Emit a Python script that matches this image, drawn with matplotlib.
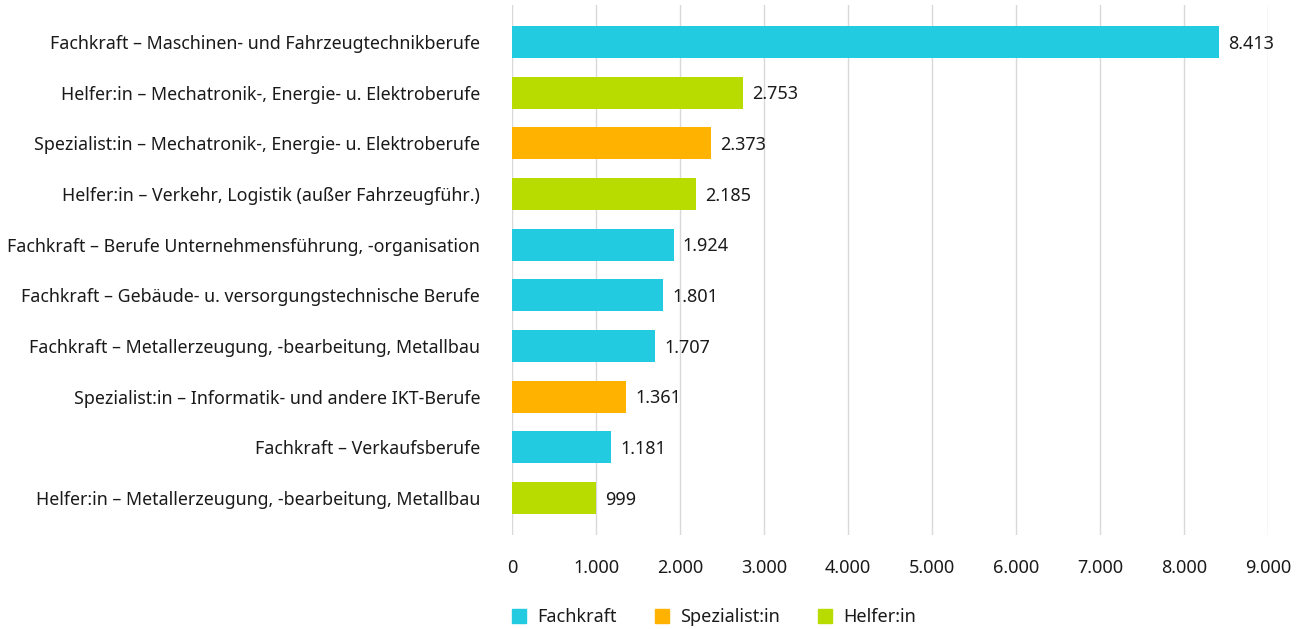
import matplotlib.pyplot as plt
from matplotlib.patches import Patch

categories = [
    "Fachkraft – Maschinen- und Fahrzeugtechnikberufe",
    "Helfer:in – Mechatronik-, Energie- u. Elektroberufe",
    "Spezialist:in – Mechatronik-, Energie- u. Elektroberufe",
    "Helfer:in – Verkehr, Logistik (außer Fahrzeugführ.)",
    "Fachkraft – Berufe Unternehmensführung, -organisation",
    "Fachkraft – Gebäude- u. versorgungstechnische Berufe",
    "Fachkraft – Metallerzeugung, -bearbeitung, Metallbau",
    "Spezialist:in – Informatik- und andere IKT-Berufe",
    "Fachkraft – Verkaufsberufe",
    "Helfer:in – Metallerzeugung, -bearbeitung, Metallbau",
]
values = [8413, 2753, 2373, 2185, 1924, 1801, 1707, 1361, 1181, 999]
levels = ["Fachkraft", "Helfer:in", "Spezialist:in", "Helfer:in", "Fachkraft",
          "Fachkraft", "Fachkraft", "Spezialist:in", "Fachkraft", "Helfer:in"]
level_names = ["Fachkraft", "Spezialist:in", "Helfer:in"]
level_colors = {"Fachkraft": "#22CBE0", "Spezialist:in": "#FFB300", "Helfer:in": "#B8DC00"}

def fmt(v):
    return f"{v:,}".replace(",", ".")

plt.rcParams['font.family'] = ['Noto Sans', 'DejaVu Sans']
txt = "#1a1a1a"

fig = plt.figure(figsize=[13.06, 6.29], dpi=100)
ax = fig.add_axes([512 / 1306, 1 - 535 / 629, (1268 - 512) / 1306, 530 / 629])

ypos = list(range(len(categories)))
ax.barh(ypos, values, height=0.63, color=[level_colors[l] for l in levels], zorder=3)
for y, v in zip(ypos, values):
    ax.text(v + 110, y + 0.03, fmt(v), va="center", ha="left", fontsize=13, color=txt)

ax.set_xlim(0, 9000)
ax.set_ylim(len(categories) - 1 + 0.73, -0.73)
ax.set_xticks(range(0, 9001, 1000))
ax.set_xticklabels([fmt(t) for t in range(0, 9001, 1000)], fontsize=13, color=txt)
ax.set_yticks(ypos)
ax.set_yticklabels(categories, fontsize=12.8, color=txt)
ax.tick_params(axis="both", length=0)
ax.tick_params(axis="x", pad=17)
ax.tick_params(axis="y", pad=23)
ax.grid(axis="x", color="#d9d9d9", linewidth=1, zorder=0)
for s in ax.spines.values():
    s.set_visible(False)

handles = [Patch(color=level_colors[n], label=n) for n in level_names]
fig.legend(handles=handles, loc="center", bbox_to_anchor=(714 / 1306, 1 - 617 / 629),
           ncol=3, frameon=False, fontsize=13, handlelength=0.8, handleheight=0.8,
           columnspacing=2.1, handletextpad=0.6, labelcolor=txt)

fig.savefig("out.png", dpi=100)
